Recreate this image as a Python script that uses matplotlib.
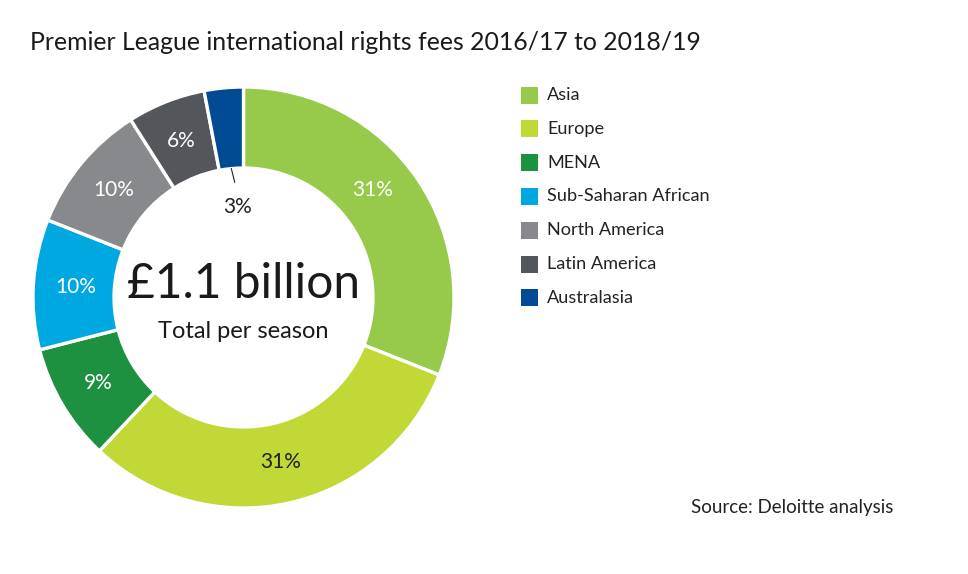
import matplotlib
matplotlib.use("Agg")
import matplotlib.pyplot as plt
import numpy as np

regions = ["Asia", "Europe", "MENA", "Sub-Saharan African", "North America", "Latin America", "Australasia"]
shares = [31, 31, 9, 10, 10, 6, 3]
colors = ["#97C94A", "#C1D836", "#1E9141", "#00A8E2", "#87898C", "#53565A", "#004B93"]
label_colors = ["white", "#222222", "white", "white", "white", "white", "#222222"]
title = "Premier League international rights fees 2016/17 to 2018/19"
center_big = "£1.1 billion"
center_small = "Total per season"
source = "Source: Deloitte analysis"

plt.rcParams['font.family'] = ['Lato', 'DejaVu Sans']

W, H = 968, 574
fig = plt.figure(figsize=(W / 100, H / 100), dpi=100)

cx, cy, R = 243.5, 297.5, 210.5
ax = fig.add_axes([(cx - R) / W, (H - cy - R) / H, 2 * R / W, 2 * R / H])
width = 0.385
wedges, _ = ax.pie(shares, colors=colors, startangle=90, counterclock=False,
                   radius=1.0, wedgeprops=dict(width=width, edgecolor="white", linewidth=2.4))
ax.set_xlim(-1, 1)
ax.set_ylim(-1, 1)
ax.set_aspect("equal")
ax.axis("off")

angle_nudge = [5.5, 0, 0, 0, 0, 0, 0]
total = sum(shares)
cum = 0
rmid = 0.80
for i, (v, c) in enumerate(zip(shares, label_colors)):
    mid = 90 - (cum + v / 2) / total * 360 + angle_nudge[i]
    cum += v
    a = np.deg2rad(mid)
    if i == len(shares) - 1:
        x0, y0 = 0.615 * np.cos(a), 0.615 * np.sin(a)
        x1, y1 = 0.55 * np.cos(a), 0.55 * np.sin(a)
        ax.plot([x0, x1 + 0.01], [y0, y1], color="#222222", lw=0.8)
        ax.text(-0.03, 0.43, f"{v}%", ha="center", va="center", fontsize=15, color=c)
    else:
        ax.text(rmid * np.cos(a), rmid * np.sin(a), f"{v}%", ha="center", va="center",
                fontsize=15, color=c)

ax.text(0, 0.065, center_big, ha="center", va="center", fontsize=34.5, color="#1a1a1a")
ax.text(0, -0.16, center_small, ha="center", va="center", fontsize=17, color="#1a1a1a")

fig.text(30 / W, 1 - 42 / H, title, ha="left", va="center", fontsize=17.8, color="#1a1a1a")

sq = 17
y0 = 95
dy = 33.8
for i, (lab, col) in enumerate(zip(regions, colors)):
    yc = y0 + i * dy
    fig.patches.append(plt.Rectangle((521 / W, 1 - (yc + sq / 2) / H), sq / W, sq / H,
                                     transform=fig.transFigure, facecolor=col, edgecolor="none"))
    fig.text(547 / W, 1 - yc / H, lab, ha="left", va="center", fontsize=13.1, color="#222222")

fig.text(893 / W, 1 - 508 / H, source, ha="right", va="center", fontsize=13.5, color="#222222")

fig.savefig("out.png", dpi=100, facecolor="white")
